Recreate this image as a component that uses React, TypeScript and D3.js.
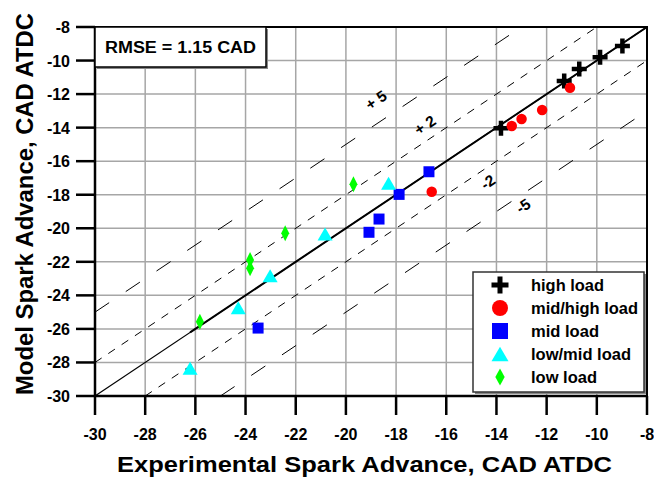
import React from "react";
import * as d3 from "d3";

// Series values: [experimental, model] spark advance, CAD ATDC
const highLoad: [number, number][] = [
  [-13.82, -14.04],
  [-11.3, -11.22],
  [-10.7, -10.5],
  [-9.87, -9.81],
  [-8.98, -9.13],
];
const midHighLoad: [number, number][] = [
  [-16.58, -17.82],
  [-13.39, -13.9],
  [-13.0, -13.49],
  [-12.18, -12.95],
  [-11.07, -11.62],
];
const midLoad: [number, number][] = [
  [-23.5, -25.95],
  [-19.08, -20.24],
  [-18.68, -19.45],
  [-17.88, -17.98],
  [-16.69, -16.63],
];
const lowMidLoad: [number, number][] = [
  [-26.21, -28.35],
  [-24.29, -24.74],
  [-23.02, -22.83],
  [-20.83, -20.34],
  [-18.3, -17.32],
];
const lowLoad: [number, number][] = [
  [-25.82, -25.57],
  [-23.82, -21.89],
  [-23.82, -22.39],
  [-22.42, -20.3],
  [-19.7, -17.38],
];

const seriesNames = ["high load", "mid/high load", "mid load", "low/mid load", "low load"];
const ticks = [-30, -28, -26, -24, -22, -20, -18, -16, -14, -12, -10, -8];
const bandOffsets = [5, 2, -2, -5];
const bandLabels = ["+ 5", "+ 2", "-2", "-5"];
const rmseText = "RMSE = 1.15 CAD";
const xTitle = "Experimental Spark Advance, CAD ATDC";
const yTitle = "Model Spark Advance, CAD ATDC";

// Where each band label sits, in data units
const bandLabelAt: [number, number][] = [
  [-18.8, -12.35],
  [-16.85, -13.84],
  [-14.34, -17.24],
  [-12.94, -18.67],
];

// Rendered widths of the legend labels
const legendTextWidths = [73, 107, 68, 100, 66];

const W = 654;
const H = 479;
const FONT = "'Liberation Sans', Arial, sans-serif";

// Custom symbol shapes; "size" is the overall width in px
const plus = (thick: number) => ({
  draw(ctx: d3.Path, size: number) {
    const h = size / 2;
    const t = thick / 2;
    ctx.moveTo(-h, -t);
    ctx.lineTo(-t, -t);
    ctx.lineTo(-t, -h);
    ctx.lineTo(t, -h);
    ctx.lineTo(t, -t);
    ctx.lineTo(h, -t);
    ctx.lineTo(h, t);
    ctx.lineTo(t, t);
    ctx.lineTo(t, h);
    ctx.lineTo(-t, h);
    ctx.lineTo(-t, t);
    ctx.lineTo(-h, t);
    ctx.closePath();
  },
});
const circle = {
  draw(ctx: d3.Path, size: number) {
    const r = size / 2;
    ctx.moveTo(r, 0);
    ctx.arc(0, 0, r, 0, Math.PI * 2);
  },
};
const square = {
  draw(ctx: d3.Path, size: number) {
    const h = size / 2;
    ctx.rect(-h, -h, size, size);
  },
};
const triangle = {
  draw(ctx: d3.Path, size: number) {
    const h = (size * Math.sqrt(3)) / 2;
    ctx.moveTo(0, -h / 2);
    ctx.lineTo(size / 2, h / 2);
    ctx.lineTo(-size / 2, h / 2);
    ctx.closePath();
  },
};
const diamond = (ratio: number) => ({
  draw(ctx: d3.Path, size: number) {
    const w = size * ratio;
    ctx.moveTo(0, -size / 2);
    ctx.lineTo(w / 2, 0);
    ctx.lineTo(0, size / 2);
    ctx.lineTo(-w / 2, 0);
    ctx.closePath();
  },
});

const series = [
  { name: seriesNames[0], data: highLoad, color: "#000000", type: plus(4.5), size: 15, legendType: plus(5), legendSize: 17 },
  { name: seriesNames[1], data: midHighLoad, color: "#ff0000", type: circle, size: 10.5, legendType: circle, legendSize: 16 },
  { name: seriesNames[2], data: midLoad, color: "#0000ff", type: square, size: 11, legendType: square, legendSize: 16 },
  { name: seriesNames[3], data: lowMidLoad, color: "#00ffff", type: triangle, size: 15, legendType: triangle, legendSize: 17 },
  { name: seriesNames[4], data: lowLoad, color: "#00ff00", type: diamond(0.5), size: 16, legendType: diamond(0.55), legendSize: 17 },
];

export default function App() {
  const x = d3.scaleLinear().domain([-30, -8]).range([95, 647]);
  const y = d3.scaleLinear().domain([-30, -8]).range([396, 27]);
  const [x0, x1] = x.domain();
  const [y0, y1] = y.domain();

  const line = d3
    .line<[number, number]>()
    .x((d) => x(d[0]))
    .y((d) => y(d[1]));

  // 1:1 line, and the band lines clipped to the plot square
  const diag: [number, number][] = [
    [x0, y0],
    [x1, y1],
  ];
  const allX = series.flatMap((s) => s.data.map((d) => d[0]));
  const fitStart = d3.min(allX) as number;
  const fitSeg: [number, number][] = [
    [fitStart, fitStart],
    [x1, y1],
  ];
  const band = (off: number): [number, number][] => {
    const a = Math.max(x0, y0 - off);
    const b = Math.min(x1, y1 - off);
    return [
      [a, a + off],
      [b, b + off],
    ];
  };

  const angle = (-Math.atan((y(0) - y(1)) / (x(1) - x(0))) * 180) / Math.PI;

  const legend = { x: 473, y: 272, w: 171, h: 120, row: 23 };

  return (
    <svg
      width={W}
      height={H}
      viewBox={`0 0 ${W} ${H}`}
      style={{ position: "absolute", left: 0, top: 0, background: "#fff" }}
      fontFamily={FONT}
    >
      <rect x={0} y={0} width={W} height={H} fill="#fff" />

      {/* grid */}
      <g stroke="#a6a6a6" strokeWidth={1.5}>
        {ticks.slice(1, -1).map((t) => (
          <line key={"gx" + t} x1={x(t)} x2={x(t)} y1={y(y0)} y2={y(y1)} />
        ))}
        {ticks.slice(1, -1).map((t) => (
          <line key={"gy" + t} y1={y(t)} y2={y(t)} x1={x(x0)} x2={x(x1)} />
        ))}
      </g>

      {/* bands */}
      {bandOffsets.map((off) => (
        <path
          key={"b" + off}
          d={line(band(off)) as string}
          fill="none"
          stroke="#000"
          strokeWidth={1}
          strokeDasharray={Math.abs(off) === 5 ? "17,20" : "8,8"}
        />
      ))}
      <path d={line(diag) as string} fill="none" stroke="#000" strokeWidth={1.2} />
      <path d={line(fitSeg) as string} fill="none" stroke="#000" strokeWidth={2} />

      {bandLabels.map((lab, i) => (
        <text
          key={lab}
          transform={`translate(${x(bandLabelAt[i][0])},${y(bandLabelAt[i][1])}) rotate(${angle})`}
          textAnchor="middle"
          dominantBaseline="central"
          fontSize={15.5}
          fontWeight="bold"
        >
          {lab}
        </text>
      ))}

      {/* frame */}
      <rect
        x={x(x0)}
        y={y(y1)}
        width={x(x1) - x(x0)}
        height={y(y0) - y(y1)}
        fill="none"
        stroke="#000"
        strokeWidth={2}
      />
      <line x1={x(x0)} x2={x(x0)} y1={y(y1) - 1} y2={y(y0) + 1} stroke="#000" strokeWidth={2.5} />
      <line x1={x(x0) - 1} x2={x(x1) + 1} y1={y(y0)} y2={y(y0)} stroke="#000" strokeWidth={2.5} />

      {/* ticks and labels */}
      {ticks.map((t) => (
        <g key={"tx" + t}>
          <line x1={x(t)} x2={x(t)} y1={y(y0)} y2={y(y0) + 19} stroke="#000" strokeWidth={2.5} />
          <text x={x(t)} y={440} textAnchor="middle" fontSize={16} fontWeight="bold">
            {t}
          </text>
        </g>
      ))}
      {ticks.map((t) => (
        <g key={"ty" + t}>
          <line x1={x(x0) - 19} x2={x(x0)} y1={y(t)} y2={y(t)} stroke="#000" strokeWidth={2.5} />
          <text x={70} y={y(t) + 6} textAnchor="end" fontSize={16} fontWeight="bold">
            {t}
          </text>
        </g>
      ))}

      {/* axis titles */}
      <text x={117} y={472} fontSize={21.5} fontWeight="bold" textLength={495} lengthAdjust="spacingAndGlyphs">
        {xTitle}
      </text>
      <text
        transform={`translate(33,395) rotate(-90)`}
        fontSize={23}
        fontWeight="bold"
        textLength={382}
        lengthAdjust="spacingAndGlyphs"
      >
        {yTitle}
      </text>

      {/* markers */}
      {series.map((s) => (
        <g key={s.name} fill={s.color}>
          {s.data.map((d, i) => (
            <path
              key={i}
              transform={`translate(${x(d[0])},${y(d[1])})`}
              d={d3.symbol().type(s.type as any).size(s.size)() as string}
            />
          ))}
        </g>
      ))}

      {/* RMSE box */}
      <rect x={x(x0) + 2} y={y(y1) + 2} width={171} height={40} fill="#888" />
      <rect x={x(x0)} y={y(y1)} width={171} height={40} fill="#fff" stroke="#000" strokeWidth={1.5} />
      <text x={105} y={53} fontSize={16} fontWeight="bold" textLength={151} lengthAdjust="spacingAndGlyphs">
        {rmseText}
      </text>

      {/* legend */}
      <rect x={legend.x + 2} y={legend.y + 2} width={legend.w} height={legend.h} fill="#888" />
      <rect x={legend.x} y={legend.y} width={legend.w} height={legend.h} fill="#fff" stroke="#333" strokeWidth={1.5} />
      {series.map((s, i) => {
        const cy = legend.y + 13 + i * legend.row;
        return (
          <g key={"lg" + s.name}>
            <path
              transform={`translate(${legend.x + 27},${cy})`}
              d={d3.symbol().type(s.legendType as any).size(s.legendSize)() as string}
              fill={s.color}
            />
            <text
              x={legend.x + 58}
              y={cy + 6}
              fontSize={16}
              fontWeight="bold"
              textLength={legendTextWidths[i]}
              lengthAdjust="spacingAndGlyphs"
            >
              {s.name}
            </text>
          </g>
        );
      })}
    </svg>
  );
}
